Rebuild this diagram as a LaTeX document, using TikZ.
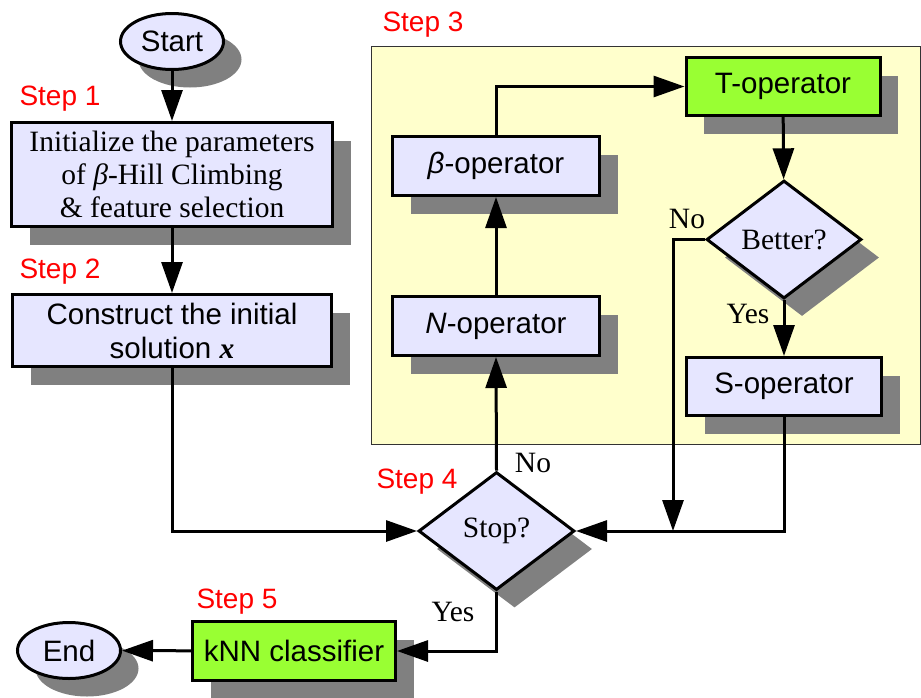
\documentclass[tikz,border=0pt]{standalone}
\usepackage{fontspec}
\setmainfont{Liberation Serif}
\setsansfont{Liberation Sans}
\usepackage{xcolor}
\usetikzlibrary{arrows.meta,shapes.geometric,shadows}

\definecolor{opfill}{RGB}{230,230,255}
\definecolor{opgreen}{RGB}{153,255,51}
\definecolor{stepyellow}{RGB}{255,255,204}
\definecolor{shadowgray}{RGB}{128,128,128}

\newcommand{\sfbig}{\sffamily\fontsize{29.5}{34}\selectfont}
\newcommand{\sfstep}{\sffamily\fontsize{28}{33}\selectfont}
\newcommand{\rmbig}{\rmfamily\fontsize{29.5}{33}\selectfont}

\tikzset{
  flowbox/.style={draw, line width=3pt, fill=opfill, inner sep=0pt, align=center,
    drop shadow={shadow xshift=18pt, shadow yshift=-18pt, fill=shadowgray, opacity=1}},
  opbox/.style={flowbox, rectangle, font=\sfbig},
  testbox/.style={flowbox, diamond, font=\rmbig},
  termbox/.style={flowbox, ellipse, font=\sfbig, minimum width=103pt, minimum height=56pt},
  steplabel/.style={anchor=west, text=red, font=\sfstep},
  answer/.style={font=\rmbig},
  flow/.style={line width=3pt, -{Triangle[length=31pt,width=21pt]}}
}

\begin{document}
\begin{tikzpicture}[x=1pt, y=-1pt]
  \useasboundingbox (0,0) rectangle (921,697);
  % Step 3 region
  \draw[fill=stepyellow, draw=black!80, line width=1pt] (371.5,46) rectangle (920.5,444);

  \node[termbox] (start) at (172,41.5) {Start};
  \node[opbox, minimum width=321pt, minimum height=104pt, font=\rmbig] (init) at (172,174.5)
    {Initialize the parameters\\of \textit{β}-Hill Climbing\\\& feature selection};
  \node[opbox, minimum width=319pt, minimum height=72pt] (construct) at (172,330.5)
    {Construct the initial\\solution {\rmfamily\bfseries\itshape x}};
  \node[testbox, minimum width=156pt, minimum height=118pt] (stop) at (496.5,531) {Stop?};
  \node[opbox, fill=opgreen, minimum width=203pt, minimum height=59pt] (knn) at (294,651) {kNN classifier};
  \node[termbox] (endn) at (69,650.5) {End};

  \node[opbox, fill=opgreen, minimum width=194pt, minimum height=58pt] (topT) at (783,86.5) {T-operator};
  \node[opbox, minimum width=207pt, minimum height=59pt] (beta) at (496,166) {\textit{β}-operator};
  \node[opbox, minimum width=207pt, minimum height=59pt] (nop) at (496,326) {\textit{N}-operator};
  \node[testbox, minimum width=155pt, minimum height=118pt] (better) at (784,239.5) {Better?};
  \node[opbox, minimum width=195pt, minimum height=58pt] (sop) at (784,386.5) {S-operator};
  \coordinate (nojoin) at (673,531);

  % step labels
  \node[steplabel] (lab1) at (16,99) {Step 1};
  \node[steplabel] (lab2) at (16,272) {Step 2};
  \node[steplabel] (lab3) at (379,25) {Step 3};
  \node[steplabel] (lab4) at (373,482) {Step 4};
  \node[steplabel] (lab5) at (193,602) {Step 5};

  % connectors
  \draw[flow] (start) -- (init);
  \draw[flow] (init) -- (construct);
  \draw[flow] (construct.south) |- (stop.west);
  \draw[flow] (stop.north) -- (nop.south);
  \draw[flow] (nop) -- (beta);
  \draw[flow] (beta.north) |- (topT.west);
  \draw[flow] (topT) -- (better);
  \draw[flow] (better.south) -- (sop.north);
  \draw[flow] (better.west) -| (nojoin);
  \draw[flow] (sop.south) |- (stop.east);
  \draw[flow] (stop.south) |- (knn.east);
  \draw[flow] (knn) -- (endn);

  \node[answer] (no1) at (533,463) {No};
  \node[answer] (yes1) at (453,612) {Yes};
  \node[answer] (no2) at (687,219) {No};
  \node[answer] (yes2) at (748,314) {Yes};
\end{tikzpicture}
\end{document}
